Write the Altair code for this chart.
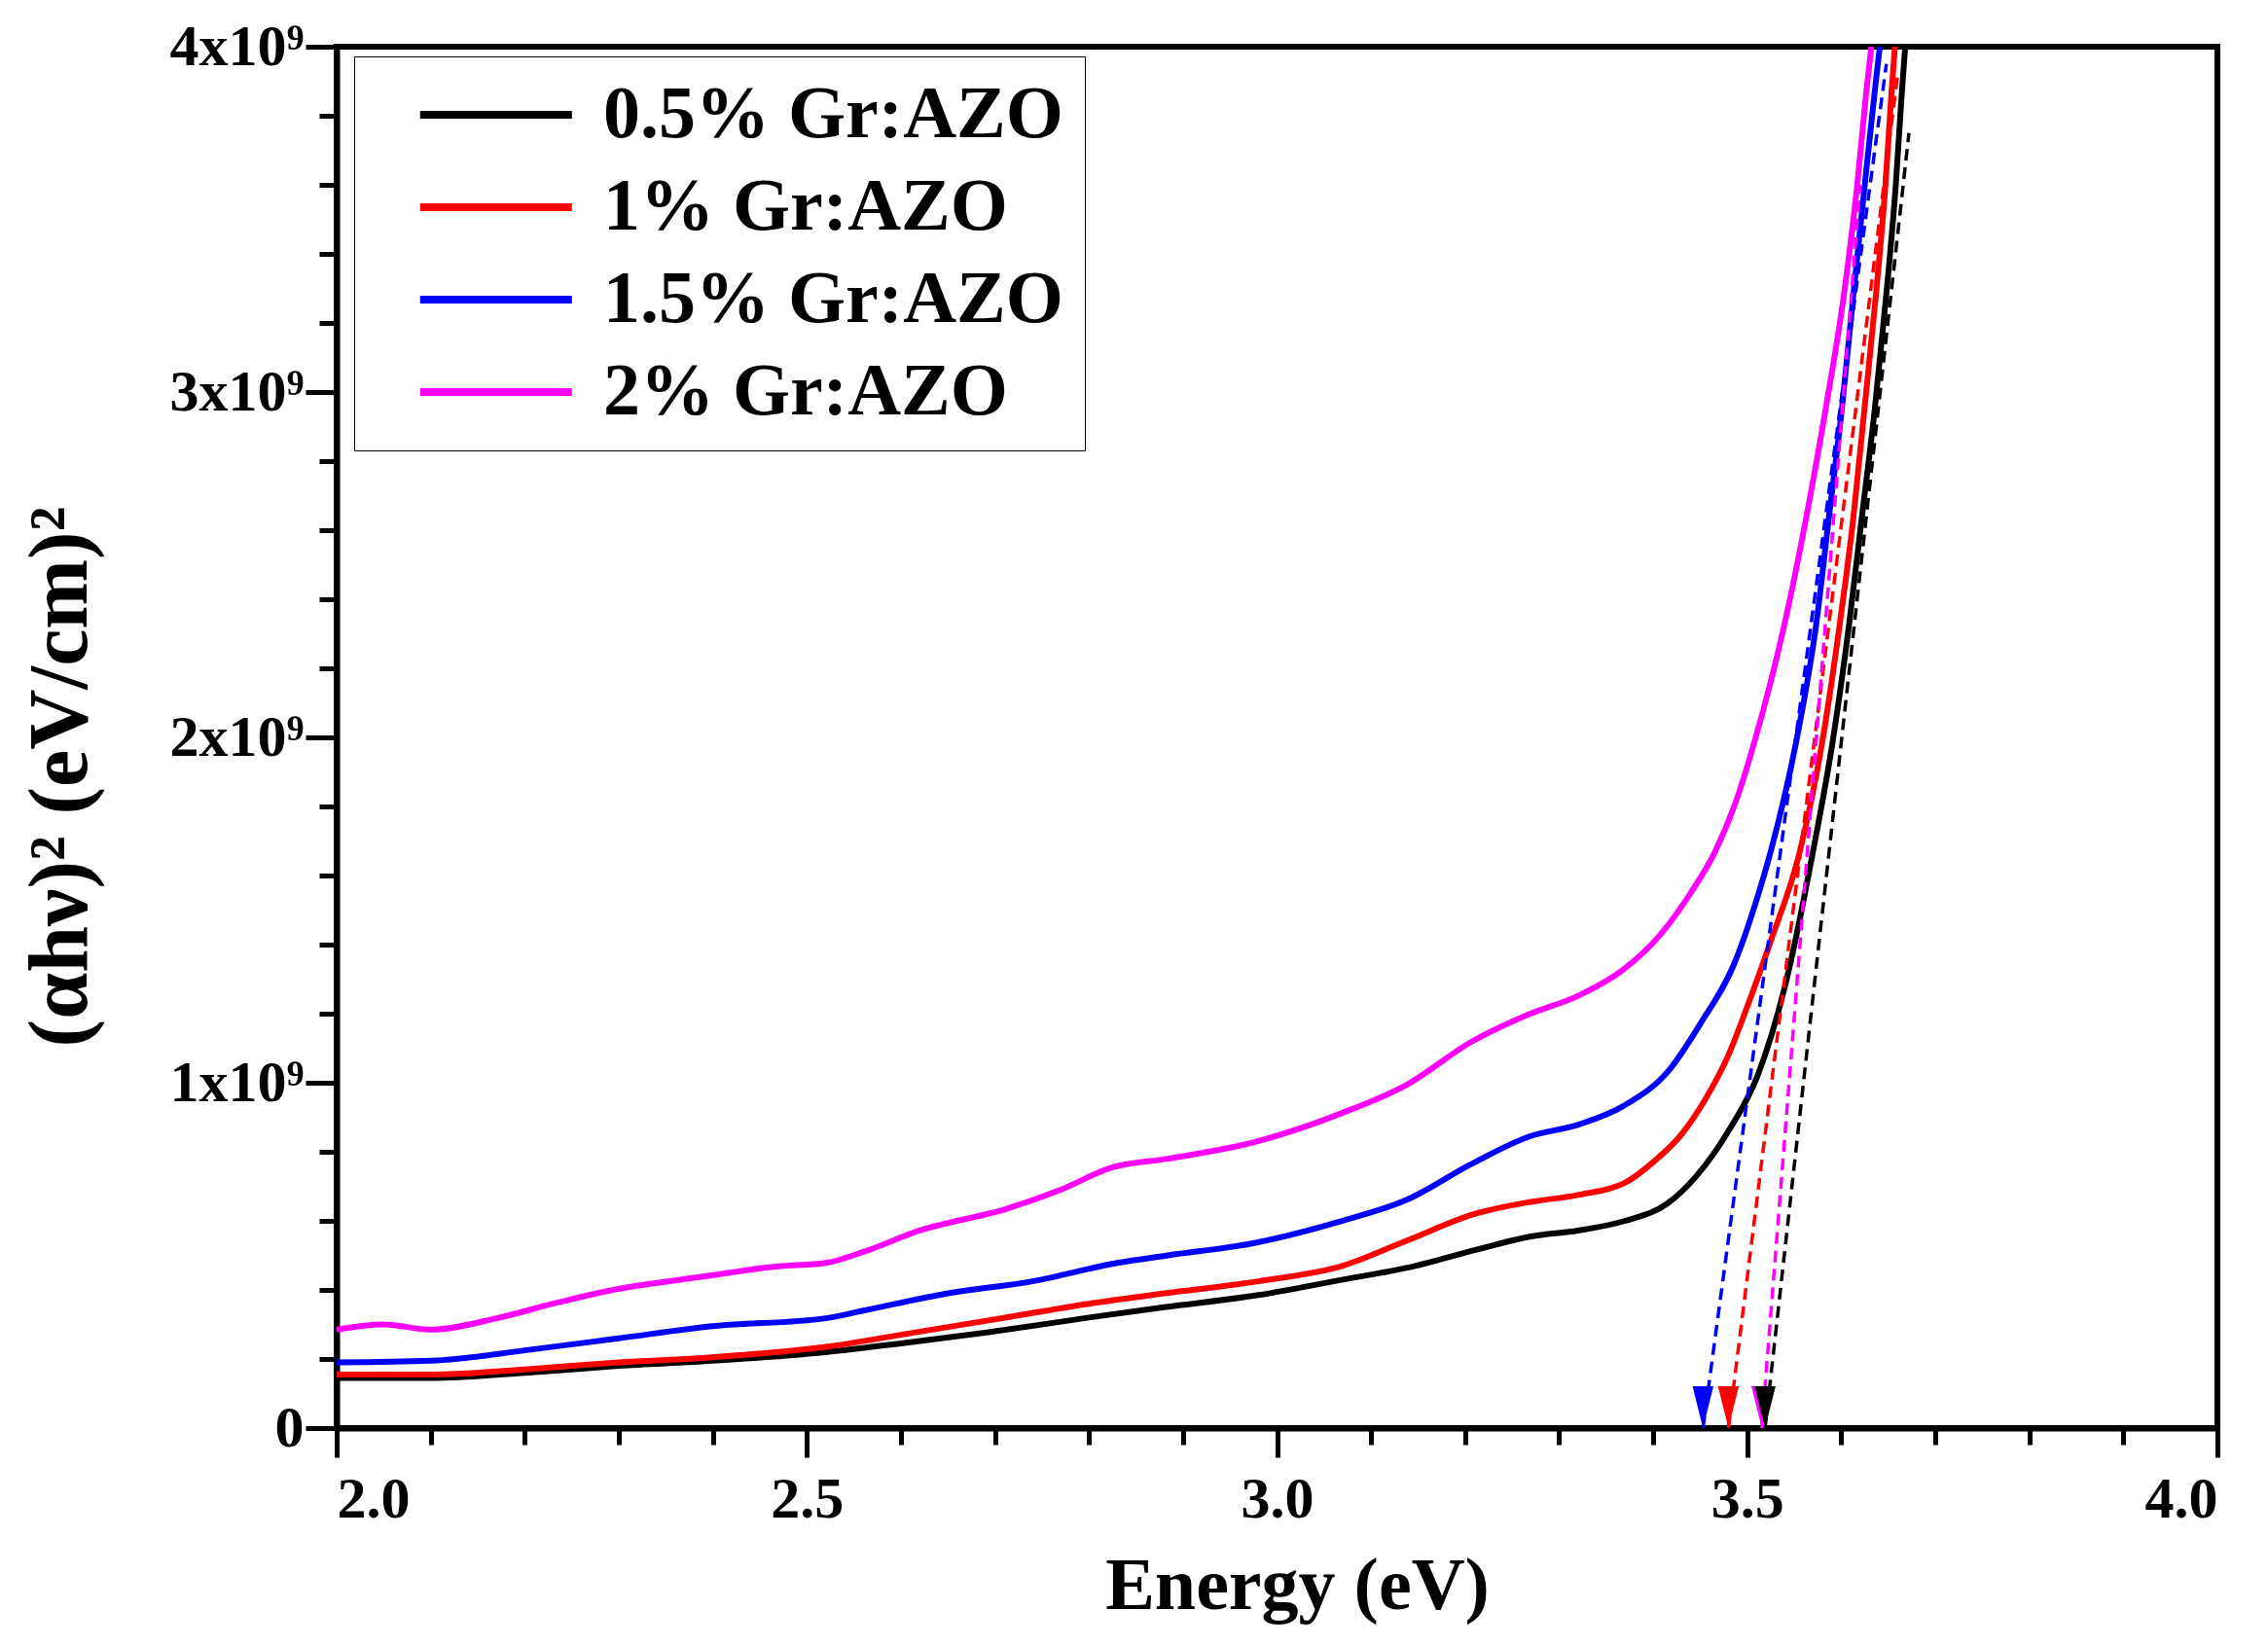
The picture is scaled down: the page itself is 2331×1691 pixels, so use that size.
import altair as alt
import pandas as pd

samples = ["0.5% Gr:AZO", "1% Gr:AZO", "1.5% Gr:AZO", "2% Gr:AZO"]
colors = ["#000000", "#ff0000", "#0000ff", "#ff00ff"]

# photon energy (eV) and (ahv)^2 in units of 1e9 (eV/cm)^2
e_05 = [2.00, 2.10, 2.20, 2.30, 2.40, 2.52, 2.60, 2.70, 2.80, 2.88, 2.98, 3.07, 3.14, 3.21, 3.27, 3.32,
        3.37, 3.415, 3.446, 3.48, 3.511, 3.542, 3.570, 3.591, 3.608, 3.622, 3.636, 3.648, 3.658, 3.664, 3.668]
v_05 = [0.145, 0.145, 0.16, 0.18, 0.195, 0.22, 0.245, 0.28, 0.32, 0.35, 0.385, 0.43, 0.465, 0.515, 0.555, 0.572,
        0.60, 0.65, 0.73, 0.86, 1.02, 1.30, 1.67, 1.99, 2.32, 2.64, 2.96, 3.285, 3.60, 3.85, 4.0]

e_1 = [2.00, 2.10, 2.20, 2.30, 2.40, 2.52, 2.60, 2.70, 2.80, 2.88, 2.98, 3.07, 3.14, 3.21, 3.27, 3.32,
       3.37, 3.40, 3.43, 3.455, 3.48, 3.50, 3.525, 3.556, 3.58, 3.598, 3.613, 3.625, 3.637, 3.647, 3.653, 3.657]
v_1 = [0.155, 0.155, 0.17, 0.19, 0.205, 0.235, 0.27, 0.315, 0.36, 0.39, 0.425, 0.47, 0.545, 0.62, 0.655, 0.675,
       0.71, 0.77, 0.85, 0.95, 1.08, 1.22, 1.41, 1.67, 1.99, 2.32, 2.64, 2.96, 3.285, 3.60, 3.85, 4.0]

e_15 = [2.00, 2.10, 2.20, 2.30, 2.40, 2.52, 2.56, 2.65, 2.74, 2.83, 2.884, 2.976, 3.068, 3.138, 3.207, 3.267,
        3.322, 3.368, 3.418, 3.45, 3.487, 3.51, 3.525, 3.553, 3.573, 3.587, 3.601, 3.613, 3.625, 3.636, 3.641]
v_15 = [0.19, 0.195, 0.225, 0.26, 0.295, 0.318, 0.34, 0.39, 0.425, 0.478, 0.50, 0.536, 0.599, 0.661, 0.765, 0.843,
        0.88, 0.932, 1.04, 1.17, 1.35, 1.53, 1.67, 2.00, 2.32, 2.64, 2.96, 3.285, 3.60, 3.88, 4.0]

e_2 = [2.00, 2.05, 2.10, 2.17, 2.23, 2.29, 2.38, 2.47, 2.52, 2.56, 2.62, 2.71, 2.77, 2.825, 2.884, 2.976,
       3.068, 3.138, 3.207, 3.267, 3.322, 3.368, 3.408, 3.44, 3.466, 3.49, 3.508, 3.539, 3.563, 3.584, 3.603,
       3.617, 3.627, 3.632]
v_2 = [0.285, 0.30, 0.285, 0.318, 0.36, 0.398, 0.435, 0.468, 0.478, 0.51, 0.572, 0.633, 0.69, 0.755, 0.78, 0.828,
       0.911, 0.994, 1.119, 1.197, 1.254, 1.327, 1.43, 1.55, 1.67, 1.83, 1.99, 2.32, 2.64, 2.96, 3.285,
       3.60, 3.88, 4.0]

# linear fits (Tauc): x-intercept = band gap, and the upper end of each dashed line
gap_e = [3.519, 3.480, 3.453, 3.5155]
fit_top_e = [3.672, 3.660, 3.648, 3.620]
fit_top_v = [3.75, 3.92, 3.95, 3.60]

rows = []
for s, es, vs in zip(samples, [e_05, e_1, e_15, e_2], [v_05, v_1, v_15, v_2]):
    for e, v in zip(es, vs):
        rows.append({"sample": s, "energy": e, "ahv2": v * 1e9})
curves = pd.DataFrame(rows)

fit_rows = []
for s, e0, e1, v1 in zip(samples, gap_e, fit_top_e, fit_top_v):
    fit_rows.append({"sample": s, "energy": e0, "ahv2": 0.0, "k": 0})
    fit_rows.append({"sample": s, "energy": e1, "ahv2": v1 * 1e9, "k": 1})
fits = pd.DataFrame(fit_rows)
# arrow heads drawn blue, red, magenta, black (black on top)
heads = fits[fits["k"] == 0].iloc[[2, 1, 3, 0]]

x_scale = alt.Scale(domain=[2, 4], nice=False, zero=False)
y_scale = alt.Scale(domain=[0, 4e9], nice=False)
color_scale = alt.Scale(domain=samples, range=colors)

x_major = alt.Axis(orient="bottom", values=[2.0, 2.5, 3.0, 3.5, 4.0], format=".1f", tickSize=30,
                   labelPadding=14, title="Energy (eV)", titleFontSize=76, titlePadding=22,
                   titleX=987, grid=False)
x_minor = alt.Axis(orient="bottom", values=[round(2 + 0.1 * i, 1) for i in range(21)], tickSize=17,
                   labels=False, domain=False, title=None, grid=False)
y_major = alt.Axis(orient="left", values=[0, 1e9, 2e9, 3e9, 4e9], tickSize=32, labelPadding=2,
                   labelExpr="datum.value == 0 ? '0' : format(datum.value / 1e9, 'd') + 'x10⁹'",
                   title="(αhν)² (eV/cm)²", titleFontSize=86, titlePadding=68, titleY=750, grid=False)
y_minor = alt.Axis(orient="left", values=[i * 2e8 for i in range(21)], tickSize=18,
                   labels=False, domain=False, title=None, grid=False)

lines = alt.Chart(curves).mark_line(strokeWidth=6, clip=True, interpolate="monotone").encode(
    x=alt.X("energy:Q", scale=x_scale, axis=x_major),
    y=alt.Y("ahv2:Q", scale=y_scale, axis=y_major),
    color=alt.Color("sample:N", scale=color_scale, sort=samples,
                    legend=alt.Legend(title=None, orient="none", legendX=18, legendY=10,
                                      symbolType="M0.3,0H6.3", symbolSize=2704, symbolStrokeWidth=8,
                                      labelFont="Liberation Serif", labelFontWeight="bold",
                                      labelFontSize=76, labelOffset=158, labelLimit=1000,
                                      padding=22, rowPadding=19, strokeColor="black",
                                      fillColor="white")),
    detail="sample:N",
)

dashes = alt.Chart(fits).mark_line(strokeWidth=3.5, strokeDash=[12, 7], clip=True).encode(
    x=alt.X("energy:Q", scale=x_scale, axis=x_minor),
    y=alt.Y("ahv2:Q", scale=y_scale, axis=y_minor),
    color=alt.Color("sample:N", scale=color_scale, legend=None),
    detail="sample:N",
    order="k:Q",
)

arrows = alt.Chart(heads).mark_point(shape="M-0.5,-2L0.5,-2L0,0Z", filled=True, opacity=1,
                                     size=1849, strokeWidth=0).encode(
    x=alt.X("energy:Q", scale=x_scale, axis=None),
    y=alt.Y("ahv2:Q", scale=y_scale, axis=None),
    color=alt.Color("sample:N", scale=color_scale, legend=None),
)

chart = alt.layer(lines, dashes, arrows).resolve_axis(
    x="independent", y="independent"
).properties(
    width=1933,
    height=1420,
    autosize=alt.AutoSizeParams(type="none"),
    padding={"left": 338, "top": 40, "right": 44, "bottom": 215},
    background="white",
).configure_view(
    stroke="black", strokeWidth=6
).configure_axis(
    domainColor="black", domainWidth=6, tickColor="black", tickWidth=5,
    labelFont="Liberation Serif", labelFontWeight="bold", labelFontSize=60, labelColor="black",
    titleFont="Liberation Serif", titleFontWeight="bold", titleColor="black",
)

chart.save("out.html", embed_options={"renderer": "svg", "actions": False})
